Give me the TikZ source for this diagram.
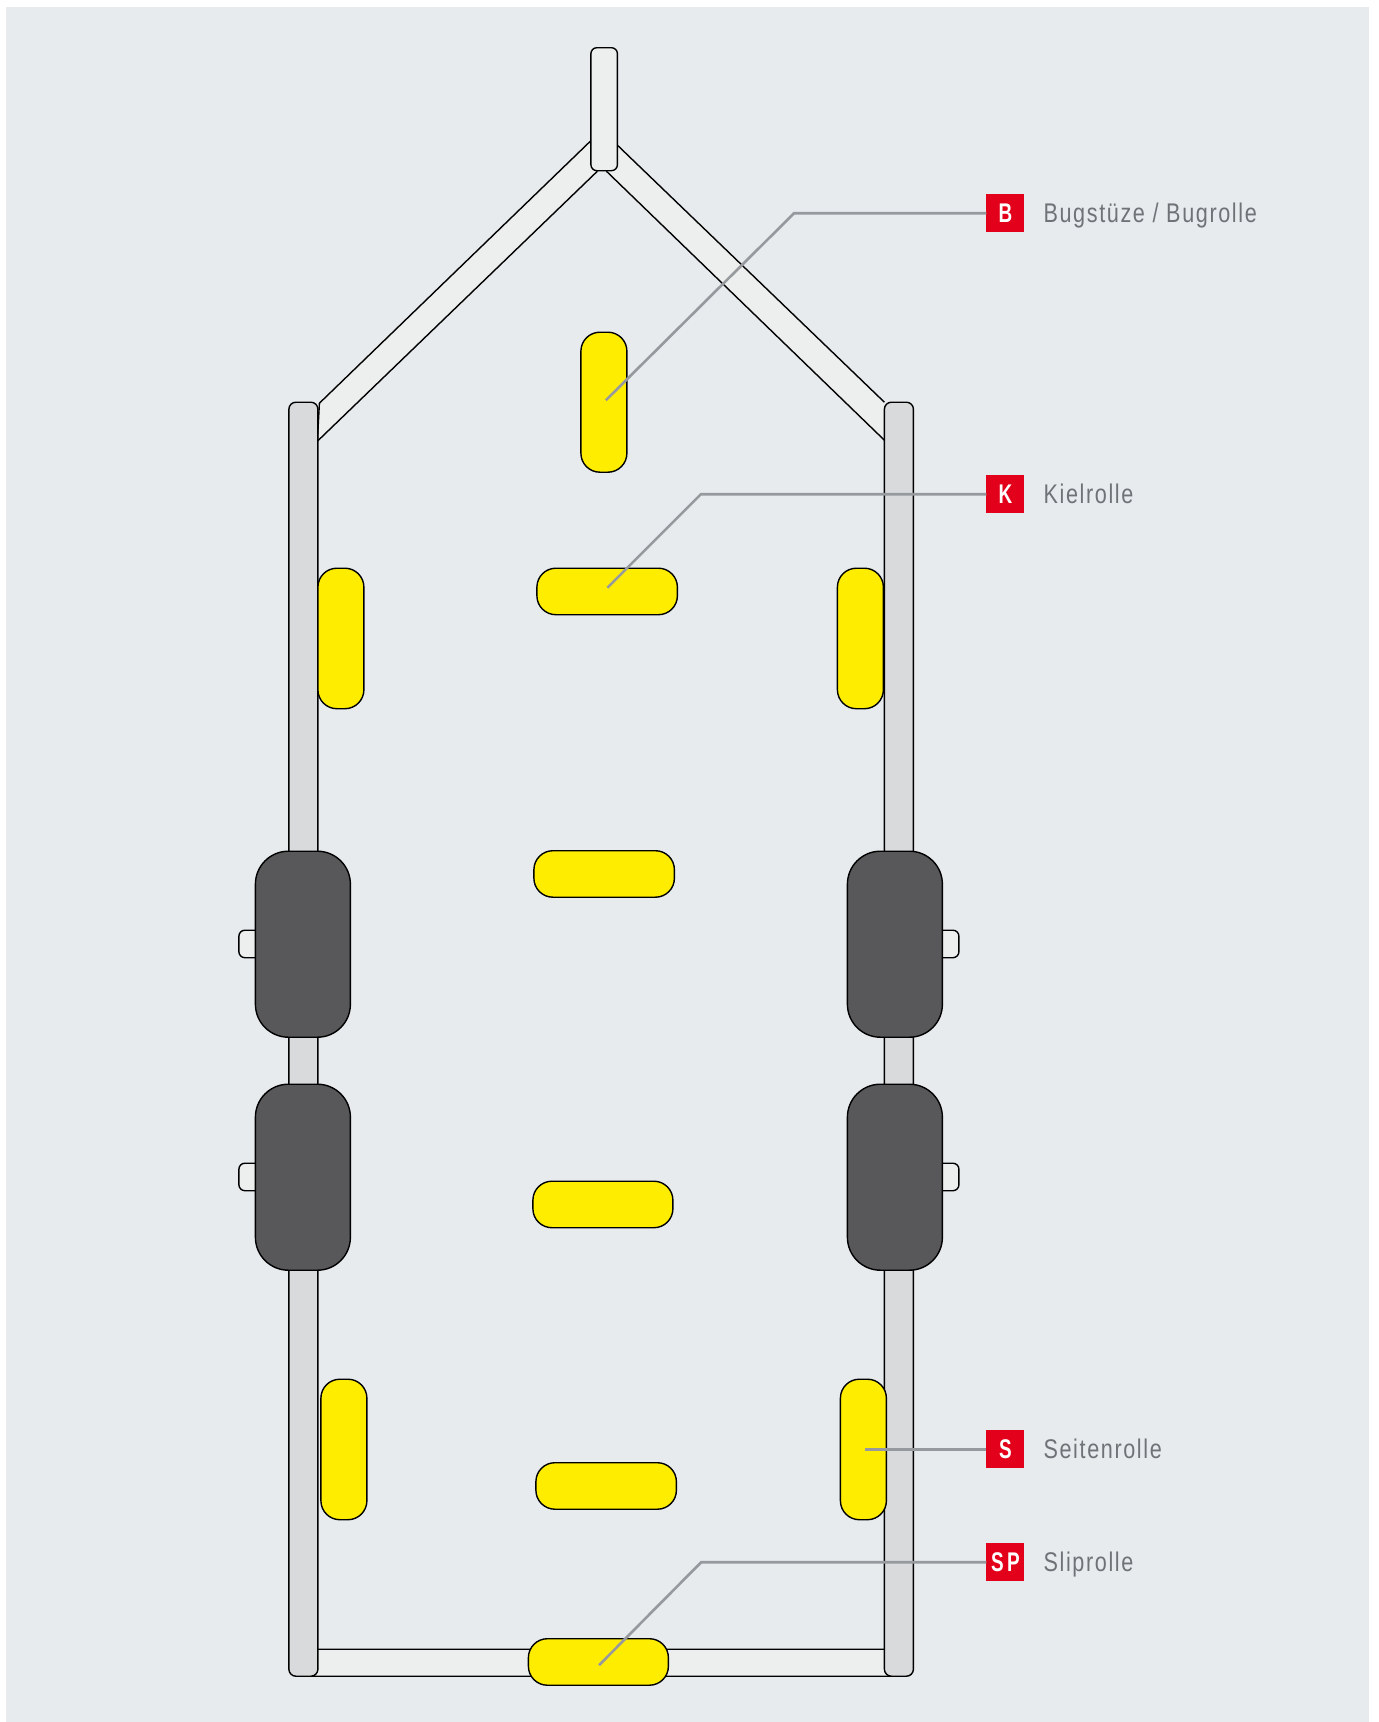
\documentclass[tikz,border=0pt]{standalone}
\usepackage{fontspec}
\newfontfamily\labelfont[FakeStretch=0.80,LetterSpace=6.0]{Liberation Sans}
\newfontfamily\tagfont[FakeStretch=0.70,LetterSpace=12]{Liberation Sans Bold}
\definecolor{panelbg}{HTML}{E7EBEE}
\definecolor{strutfill}{HTML}{EDEFEE}
\definecolor{railfill}{HTML}{D9DADC}
\definecolor{tyrefill}{HTML}{58585A}
\definecolor{rollfill}{HTML}{FFED00}
\definecolor{tagred}{HTML}{E2001A}
\definecolor{leadgrey}{HTML}{969A9E}
\definecolor{labelgrey}{HTML}{6F7378}
\tikzset{
  partbase/.style={draw=black,line width=1.4pt,inner sep=0pt,outer sep=0pt,rectangle},
  railpart/.style={partbase,fill=railfill,rounded corners=7pt},
  stempart/.style={partbase,fill=strutfill,rounded corners=6pt},
  strutpart/.style={draw=none,fill=strutfill},
  strutline/.style={draw=black,line width=1.4pt},
  hubpart/.style={partbase,fill=strutfill,rounded corners=6pt},
  tyrepart/.style={partbase,fill=tyrefill,rounded corners=33pt},
  rollpart/.style={partbase,fill=rollfill,rounded corners=19pt},
  leadline/.style={draw=leadgrey,line width=2.6pt},
  tagbox/.style={fill=tagred,text=white,inner sep=0pt,outer sep=0pt,minimum width=38pt,minimum height=38pt,font=\tagfont\fontsize{27}{29}\selectfont},
  tagtext/.style={anchor=base west,inner sep=0pt,text=labelgrey,font=\labelfont\fontsize{27}{30}\selectfont}
}
\newcommand{\partbox}[6]{%
  \pgfmathsetmacro\pw{#5-#3}\pgfmathsetmacro\ph{#6-#4}%
  \pgfmathsetmacro\pcx{(#3+#5)/2}\pgfmathsetmacro\pcy{(#4+#6)/2}%
  \node[#2,minimum width=\pw pt,minimum height=\ph pt] (#1) at (\pcx,\pcy) {};}
\begin{document}
\begin{tikzpicture}[x=1pt,y=-1pt]
\useasboundingbox (0,0) rectangle (1379,1722);
\fill[white] (0,0) rectangle (1379,1722);
\fill[panelbg] (6,7) rectangle (1369,1722);
\begin{scope}[xshift=0.4pt,yshift=-0.2pt]
% struts
\fill[strutpart] (317,403) -- (592,140) -- (617,145) -- (884,402) -- (884,440) -- (606,171) -- (597,171) -- (317,441) -- cycle;
\draw[strutline] (319,403) -- (591,140);
\draw[strutline] (317,441) -- (597,171);
\draw[strutline] (319,403) -- (317,441);
\draw[strutline] (617,145) -- (884,402);
\draw[strutline] (606,171) -- (884,440);
% rear cross bar
\partbox{crossbar}{partbase,fill=strutfill,rounded corners=2pt}{300}{1649}{900}{1676}
% rails
\partbox{railL}{railpart}{288.5}{402}{317.5}{1676}
\partbox{railR}{railpart}{884}{402}{913}{1676}
% stem
\partbox{stem}{stempart}{590.5}{47.5}{617}{170.5}
% hubs
\partbox{hubLa}{hubpart}{238.5}{930}{270}{957.5}
\partbox{hubLb}{hubpart}{238.5}{1163}{270}{1190.5}
\partbox{hubRa}{hubpart}{925}{930}{958.5}{957.5}
\partbox{hubRb}{hubpart}{925}{1163}{958.5}{1190.5}
% tyres
\partbox{tyreLa}{tyrepart}{255}{851}{350}{1037}
\partbox{tyreLb}{tyrepart}{255}{1084}{350}{1270}
\partbox{tyreRa}{tyrepart}{847}{851}{942}{1037}
\partbox{tyreRb}{tyrepart}{847}{1084}{942}{1270}
% rollers
\partbox{bow}{rollpart}{580.5}{332}{626.5}{472}
\partbox{keelA}{rollpart}{536.5}{568}{677}{614.5}
\partbox{keelB}{rollpart}{533.5}{850.5}{674}{897}
\partbox{keelC}{rollpart}{532.5}{1181}{672.5}{1227.5}
\partbox{keelD}{rollpart}{535.5}{1462.5}{676}{1509}
\partbox{sideLa}{rollpart}{317.5}{568}{363.5}{708.5}
\partbox{sideRa}{rollpart}{837}{568}{883}{708.5}
\partbox{sideLb}{rollpart}{320.5}{1379}{366.5}{1519.5}
\partbox{sideRb}{rollpart}{840}{1379}{886}{1519.5}
\partbox{slip}{rollpart}{528}{1638.5}{668}{1685}
% tags
\node[tagbox] (tagB) at (1005,213) {B};
\node[tagbox] (tagK) at (1005,494) {K};
\node[tagbox] (tagS) at (1005,1449) {S};
\node[tagbox] (tagSP) at (1005,1562) {SP};
\node[tagtext] (textB) at (1043,222.7) {Bugstüze / Bugrolle};
\node[tagtext] (textK) at (1043,503.7) {Kielrolle};
\node[tagtext] (textS) at (1043,1458.7) {Seitenrolle};
\node[tagtext] (textSP) at (1043,1571.7) {Sliprolle};
% leaders
\coordinate (endB) at (605.5,400);
\coordinate (kneeB) at (793.7,213);
\coordinate (endK) at (607,587.5);
\coordinate (kneeK) at (700.5,494);
\coordinate (endS) at (865,1449);
\coordinate (endSP) at (598.6,1665);
\coordinate (kneeSP) at (700.8,1562);
\draw[leadline] (endB) -- (kneeB) -- (tagB.west);
\draw[leadline] (endK) -- (kneeK) -- (tagK.west);
\draw[leadline] (endS) -- (tagS.west);
\draw[leadline] (endSP) -- (kneeSP) -- (tagSP.west);
\end{scope}
\end{tikzpicture}
\end{document}
